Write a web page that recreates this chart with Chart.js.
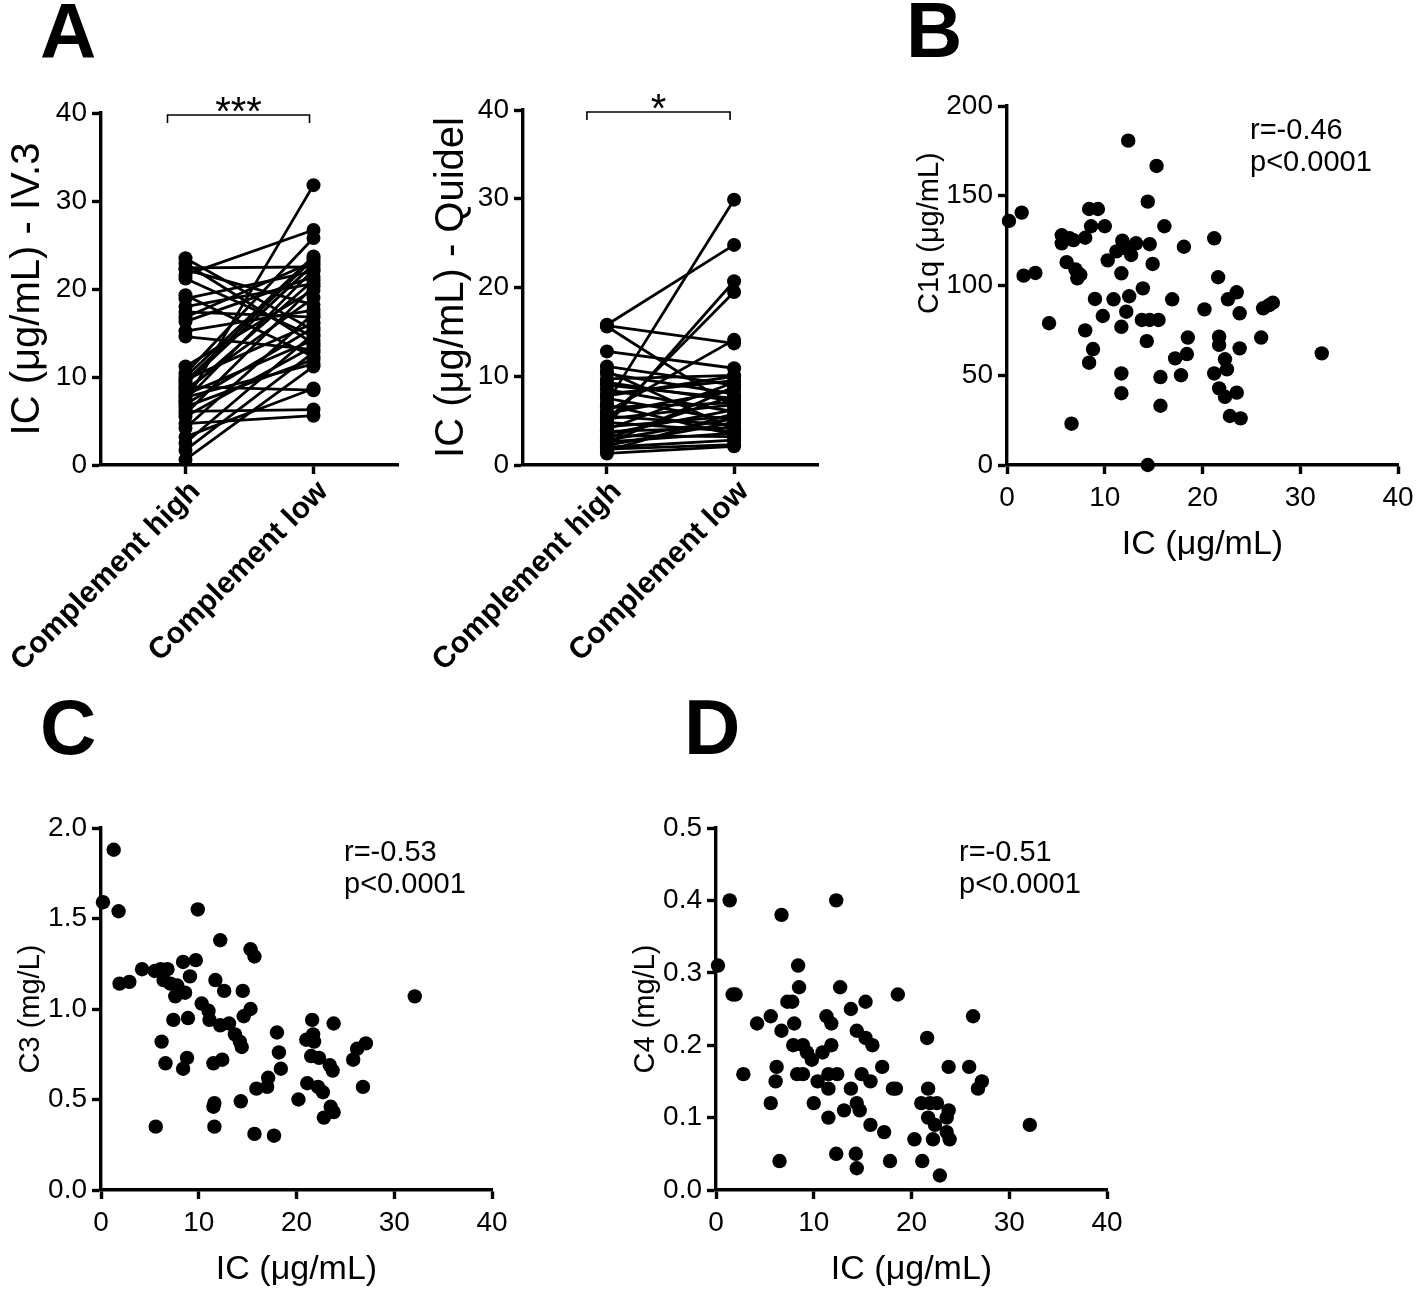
<!DOCTYPE html>
<html>
<head>
<meta charset="utf-8">
<script src="https://cdn.jsdelivr.net/npm/chart.js@4.4.1/dist/chart.umd.min.js"></script>
<style>
  body { margin: 0; background: #fff; }
  #fig { position: relative; width: 1418px; height: 1291px; overflow: hidden; font-family: "Liberation Sans", Arial, sans-serif; }
  #fig canvas { position: absolute; }
  .letter { position: absolute; font-weight: bold; font-size: 78px; line-height: 1; color: #000; z-index: 2; }
</style>
</head>
<body>
<div id="fig">
  <canvas id="chartA1"></canvas>
  <canvas id="chartA2"></canvas>
  <canvas id="chartB"></canvas>
  <canvas id="chartC"></canvas>
  <canvas id="chartD"></canvas>
  <div class="letter" style="left:40px; top:-8px">A</div>
  <div class="letter" style="left:906px; top:-9px">B</div>
  <div class="letter" style="left:40px; top:688px">C</div>
  <div class="letter" style="left:684px; top:688px">D</div>
</div>
<script>
const groups = ['Complement high', 'Complement low']

// panel A, IV.3 assay: paired values (complement high -> complement low)
const iv3High = [23.5, 22.9, 22.4, 22.2, 21.6, 21.2, 19.3, 18.9, 18.0, 17.4, 16.8, 16.3, 15.2, 14.6, 11.2, 10.4, 10.0, 9.7, 9.2,
    8.9, 8.3, 8.0, 7.7, 7.2, 6.9, 6.6, 6.1, 5.8, 5.5, 4.7, 4.2, 3.2, 1.7, 0.6, 9.5, 8.6, 7.4, 2.5]
const iv3Low = [15.3, 13.8, 22.5, 18.2, 26.7, 14.6, 12.3, 22.0, 20.6, 16.8, 23.1, 21.4, 17.6, 13.1, 19.9, 25.8, 23.7, 16.1, 22.8,
    8.5, 21.0, 14.2, 11.5, 31.8, 15.6, 12.0, 6.3, 20.3, 13.5, 5.6, 17.2, 8.7, 12.8, 11.2, 23.4, 19.0, 22.2, 14.9]

// panel A, Quidel assay
const quidelHigh = [15.8, 15.7, 15.6, 12.8, 11.1, 10.3, 9.7, 9.0, 8.5, 8.0, 7.5, 7.0, 6.5, 6.0, 5.8, 5.5, 5.2, 5.0, 4.8,
    4.5, 4.3, 4.0, 3.8, 3.5, 3.3, 3.0, 2.8, 2.6, 2.4, 2.2, 2.0, 1.8, 1.6, 1.3, 6.8, 9.3, 10.6, 7.8]
const quidelLow = [24.8, 13.7, 6.5, 10.9, 9.0, 8.0, 10.1, 7.5, 6.0, 9.5, 5.0, 29.9, 7.0, 14.1, 8.5, 4.5, 6.8, 19.5, 3.8,
    20.7, 5.5, 9.3, 4.2, 6.2, 3.2, 7.8, 5.2, 3.6, 8.8, 4.8, 2.8, 2.3, 5.8, 2.1, 3.4, 7.2, 4.0, 10.0]

// panel B: IC vs C1q
const icB = [0.2, 1.5, 1.7, 2.9, 4.3, 5.6, 5.6, 6.4, 6.8, 6.1, 7.0, 7.5, 7.2, 8.0, 8.4, 9.3, 8.6, 10.0, 9.0, 9.8, 8.0, 8.8,
    8.4, 6.6, 10.3, 11.2, 11.8, 12.2, 12.7, 13.2, 11.7, 10.9, 12.5, 12.2, 11.7, 11.7, 11.7, 12.4, 13.9, 13.8, 14.6, 15.5,
    14.3, 14.4, 14.4, 14.6, 14.9, 15.3, 15.7, 15.7, 16.1, 16.9, 17.2, 18.4, 17.8, 18.5, 18.1, 20.2, 21.2, 21.6, 21.2, 21.7,
    21.7, 22.3, 22.5, 21.7, 22.3, 22.8, 23.9, 23.5, 22.6, 23.5, 23.8, 23.8, 26.0, 26.2, 26.8, 27.2, 32.2]
const c1q = [136, 140.6, 105.5, 107, 79, 128, 123.5, 126.3, 125.3, 113, 109, 106, 104, 126.6, 142.6, 142.6, 133, 133, 92.5,
    83, 75, 64.6, 57, 23, 114, 119, 125, 120.7, 117, 123.5, 106.8, 92.3, 94, 85.4, 77, 51, 40, 180.7, 98.4, 80.8, 80.8, 80.8,
    69, 0, 146.7, 123, 112, 166.6, 49, 33, 133, 92.3, 59.4, 61.8, 50, 71, 121.6, 86.7, 126.3, 104.6, 51, 71.5, 66.9, 58.9,
    53.3, 42.7, 38, 27.3, 26, 40.3, 92.3, 96.2, 84.5, 65, 71, 87.3, 89, 90.4, 62.2]

// panel C: IC vs C3
const icC = [1.3, 0.2, 1.8, 9.9, 12.2, 15.3, 15.7, 1.9, 2.9, 4.2, 5.5, 6.1, 6.8, 6.4, 7.1, 7.8, 8.0, 7.6, 8.6, 8.4, 9.7, 9.1,
    11.7, 12.6, 14.5, 10.3, 11.0, 11.1, 12.2, 13.1, 13.7, 14.2, 14.4, 14.6, 15.3, 7.4, 8.9, 6.2, 6.6, 8.4, 8.8, 11.5, 12.4,
    5.6, 11.6, 11.5, 11.6, 14.3, 15.7, 17.7, 15.9, 17.1, 17.0, 18.0, 18.2, 18.4, 20.2, 21.6, 21.0, 21.7, 21.8, 21.5, 22.3,
    23.4, 23.7, 23.8, 21.1, 22.2, 22.7, 23.5, 23.8, 22.8, 25.8, 26.2, 27.1, 26.8, 32.1]
const c3 = [1.88, 1.59, 1.54, 1.55, 1.38, 1.33, 1.29, 1.14, 1.15, 1.22, 1.21, 1.22, 1.22, 1.16, 1.14, 1.13, 1.09, 1.07, 1.09,
    1.26, 1.27, 1.18, 1.16, 1.10, 1.10, 1.03, 0.99, 0.94, 0.91, 0.92, 0.86, 0.82, 0.79, 0.96, 1.00, 0.94, 0.95, 0.82, 0.70,
    0.67, 0.73, 0.70, 0.72, 0.35, 0.48, 0.46, 0.35, 0.49, 0.31, 0.30, 0.56, 0.62, 0.57, 0.87, 0.76, 0.67, 0.50, 0.94, 0.83,
    0.86, 0.82, 0.74, 0.73, 0.69, 0.66, 0.92, 0.59, 0.57, 0.54, 0.46, 0.43, 0.40, 0.72, 0.78, 0.81, 0.57, 1.07]

// panel D: IC vs C4
const icD = [0.2, 1.4, 1.7, 2.0, 2.8, 4.2, 5.6, 6.2, 6.1, 5.6, 6.5, 6.7, 6.7, 7.3, 7.8, 8.0, 8.4, 8.5, 7.9, 8.9, 9.3, 9.8,
    8.3, 8.9, 10.0, 10.4, 10.9, 11.3, 11.8, 11.8, 11.5, 11.5, 12.4, 11.5, 12.3, 12.7, 12.3, 13.1, 13.8, 13.8, 14.4, 15.3,
    16.0, 15.3, 14.4, 14.7, 14.9, 15.8, 14.3, 14.4, 15.8, 17.0, 17.2, 17.8, 18.1, 18.4, 18.6, 20.3, 21.1, 21.6, 21.7, 21.0,
    21.9, 22.6, 21.7, 22.4, 23.6, 23.8, 22.2, 23.6, 23.9, 22.9, 23.8, 25.9, 26.3, 26.8, 27.2, 32.1]
const c4 = [0.31, 0.40, 0.27, 0.27, 0.16, 0.23, 0.24, 0.17, 0.15, 0.12, 0.04, 0.38, 0.22, 0.26, 0.26, 0.23, 0.31, 0.28, 0.20,
    0.20, 0.19, 0.18, 0.16, 0.16, 0.12, 0.15, 0.19, 0.24, 0.23, 0.20, 0.16, 0.14, 0.16, 0.10, 0.40, 0.28, 0.05, 0.11, 0.25,
    0.14, 0.22, 0.21, 0.20, 0.26, 0.12, 0.11, 0.16, 0.15, 0.05, 0.03, 0.09, 0.17, 0.08, 0.04, 0.14, 0.14, 0.27, 0.07, 0.04,
    0.21, 0.14, 0.12, 0.12, 0.12, 0.10, 0.09, 0.10, 0.11, 0.07, 0.08, 0.07, 0.02, 0.17, 0.17, 0.24, 0.14, 0.15, 0.09]

const yTicksA = [0, 10, 20, 30, 40]
const xTicksIC = [0, 10, 20, 30, 40]

const FONT = '"Liberation Sans", Arial, Helvetica, sans-serif'
const BLACK = '#000'

// canvas box [left, top, width, height] and plot area [left, top, right, bottom], page pixels
function place(id, box, area) {
    const cv = document.getElementById(id)
    cv.width = box[2]
    cv.height = box[3]
    cv.style.left = box[0] + 'px'
    cv.style.top = box[1] + 'px'
    return {
        cv, box, area,
        padding: {left: 0, top: area[1] - box[1], right: box[0] + box[2] - area[2], bottom: 0},
        yWidth: area[0] - box[0],
        xHeight: box[1] + box[3] - area[3],
    }
}

const grid = {display: true, drawOnChartArea: false, drawTicks: true, tickLength: 9, tickWidth: 3.4, tickColor: BLACK}
const border = {display: true, color: BLACK, width: 3.4}

function yAxis(p, min, max, values, title, titleSize, titleCenterX, tickSize, fmt) {
    return {
        type: 'linear', min, max,
        afterBuildTicks: s => { s.ticks = values.map(v => ({value: v})) },
        ticks: {color: BLACK, font: {family: FONT, size: tickSize}, padding: 5, autoSkip: false, callback: fmt},
        grid, border,
        title: {display: true, text: title, color: BLACK, font: {family: FONT, size: titleSize},
            padding: {top: titleCenterX - p.box[0] - titleSize * 0.6, bottom: 0}},
        afterFit: s => { s.width = p.yWidth; s.paddingTop = 0; s.paddingBottom = 0 },
    }
}

function xAxisIC(p, titleCenterY) {
    return {
        type: 'linear', min: 0, max: 40,
        afterBuildTicks: s => { s.ticks = xTicksIC.map(v => ({value: v})) },
        ticks: {color: BLACK, font: {family: FONT, size: 28}, padding: 7, autoSkip: false, maxRotation: 0},
        grid, border,
        title: {display: true, text: 'IC (\u03bcg/mL)', color: BLACK, font: {family: FONT, size: 34},
            padding: {top: 0, bottom: p.box[1] + p.box[3] - titleCenterY - 34 * 0.6}},
        afterFit: s => { s.height = p.xHeight; s.paddingLeft = 0; s.paddingRight = 0 },
    }
}

function xAxisGroups(p) {
    return {
        type: 'linear', min: -0.66, max: 1.66,
        afterBuildTicks: s => { s.ticks = [{value: 0}, {value: 1}] },
        ticks: {color: BLACK, font: {family: FONT, size: 30, weight: 'bold'}, padding: 0, labelOffset: 10,
            autoSkip: false, minRotation: 45, maxRotation: 45, callback: v => groups[v]},
        grid, border,
        afterFit: s => { s.height = p.xHeight; s.paddingLeft = 0; s.paddingRight = 0 },
    }
}

// significance bracket above the two groups
const bracket = {
    id: 'bracket',
    afterDraw(chart, args, o) {
        const {ctx, scales: {x, y}} = chart
        const x0 = x.getPixelForValue(0) + o.dx0
        const x1 = x.getPixelForValue(1) + o.dx1
        const yy = y.getPixelForValue(40) + o.dy
        ctx.save()
        ctx.strokeStyle = BLACK
        ctx.lineWidth = 1.6
        ctx.beginPath()
        ctx.moveTo(x0, yy + 8)
        ctx.lineTo(x0, yy)
        ctx.lineTo(x1, yy)
        ctx.lineTo(x1, yy + 8)
        ctx.stroke()
        ctx.fillStyle = BLACK
        ctx.font = '40px ' + FONT
        ctx.textAlign = 'center'
        ctx.textBaseline = 'alphabetic'
        ctx.fillText(o.text, (x0 + x1) / 2, yy + 10)
        ctx.restore()
    }
}

// correlation text in the scatter panels
const stats = {
    id: 'stats',
    afterDraw(chart, args, o) {
        const {ctx, chartArea} = chart
        ctx.save()
        ctx.fillStyle = BLACK
        ctx.font = '29px ' + FONT
        ctx.textAlign = 'left'
        ctx.textBaseline = 'alphabetic'
        o.lines.forEach((t, i) => ctx.fillText(t, chartArea.left + 243, chartArea.top + 33 + i * 32))
        ctx.restore()
    }
}

function pairedChart(id, box, area, high, low, title, titleCenterX, star, dx0) {
    const p = place(id, box, area)
    new Chart(p.cv, {
        type: 'line',
        data: {
            datasets: high.map((h, i) => ({
                data: [{x: 0, y: h}, {x: 1, y: low[i]}],
                borderColor: BLACK, backgroundColor: BLACK, borderWidth: 2.8,
                pointRadius: 7, pointBorderWidth: 0, pointBackgroundColor: BLACK,
                tension: 0, clip: false,
            }))
        },
        options: {
            responsive: false, animation: false,
            layout: {padding: p.padding},
            plugins: {legend: {display: false}, tooltip: {enabled: false},
                bracket: {text: star, dx0: dx0, dx1: -4, dy: 2}},
            scales: {
                x: xAxisGroups(p),
                y: yAxis(p, 0, 40, yTicksA, title, 40, titleCenterX, 28),
            }
        },
        plugins: [bracket]
    })
}

function scatterChart(id, box, area, xs, ys, yMin, yMax, yTicks, title, titleCenterX, fmt, lines, xTitleY) {
    const p = place(id, box, area)
    new Chart(p.cv, {
        type: 'scatter',
        data: {
            datasets: [{
                data: xs.map((x, i) => ({x, y: ys[i]})),
                pointRadius: 7.2, pointBorderWidth: 0, backgroundColor: BLACK, clip: false,
            }]
        },
        options: {
            responsive: false, animation: false,
            layout: {padding: p.padding},
            plugins: {legend: {display: false}, tooltip: {enabled: false}, stats: {lines}},
            scales: {
                x: xAxisIC(p, xTitleY),
                y: yAxis(p, yMin, yMax, yTicks, title, 29, titleCenterX, 28, fmt),
            }
        },
        plugins: [stats]
    })
}

pairedChart('chartA1', [0, 60, 420, 640], [101, 113, 398, 465], iv3High, iv3Low,
    'IC (\u03bcg/mL) - IV.3', 28, '***', -18)
pairedChart('chartA2', [420, 60, 420, 640], [523, 110, 818, 465], quidelHigh, quidelLow,
    'IC (\u03bcg/mL) - Quidel', 452, '*', -20)

// leading spaces lift the C1q title like in the original layout
scatterChart('chartB', [880, 60, 538, 540], [1007, 106, 1398, 465], icB, c1q, 0, 200, [0, 50, 100, 150, 200],
    '             C1q (\u03bcg/mL)', 930, v => v, ['r=-0.46', 'p<0.0001'], 545)
scatterChart('chartC', [0, 780, 560, 511], [101, 828, 492, 1190], icC, c3, 0, 2, [0, 0.5, 1, 1.5, 2],
    'C3 (mg/L)', 31, v => v.toFixed(1), ['r=-0.53', 'p<0.0001'], 1270)
scatterChart('chartD', [600, 780, 560, 511], [716, 828, 1107, 1190], icD, c4, 0, 0.5, [0, 0.1, 0.2, 0.3, 0.4, 0.5],
    'C4 (mg/L)', 646, v => v.toFixed(1), ['r=-0.51', 'p<0.0001'], 1270)
</script>
</body>
</html>
